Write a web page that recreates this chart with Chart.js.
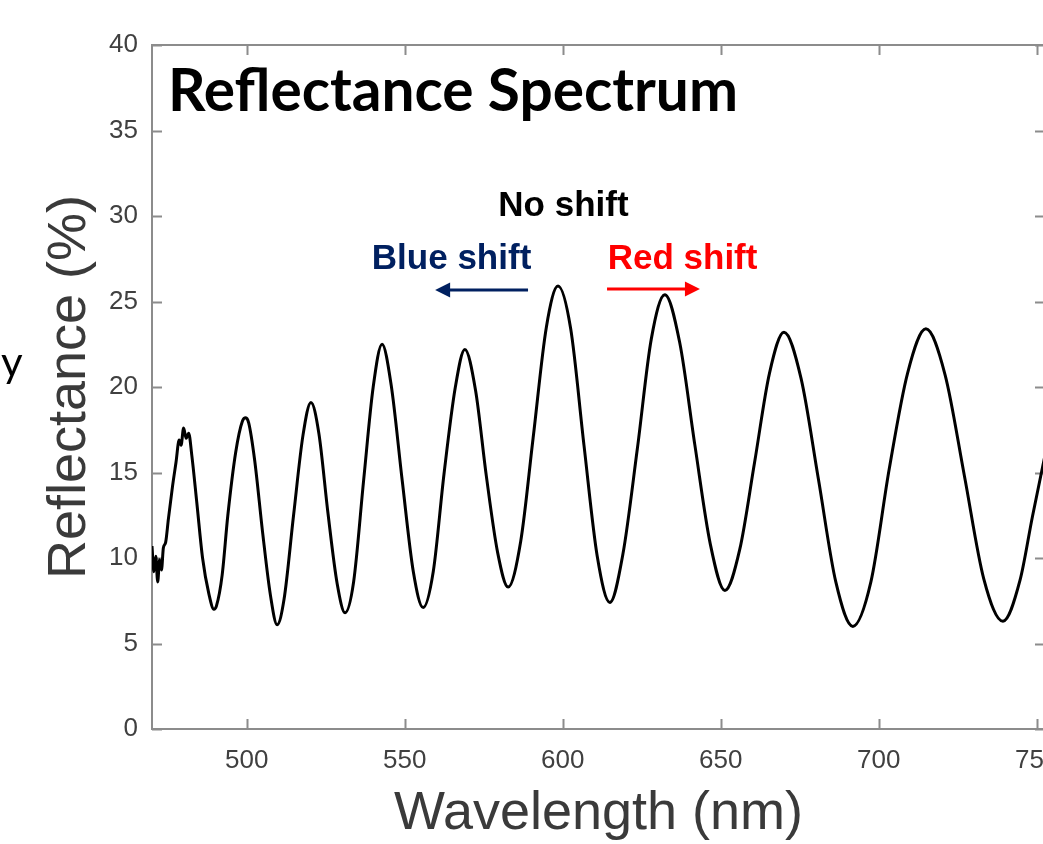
<!DOCTYPE html>
<html>
<head>
<meta charset="utf-8">
<script src="https://cdn.jsdelivr.net/npm/chart.js@4.4.0/dist/chart.umd.min.js"></script>
<style>
  html, body { margin: 0; padding: 0; overflow: hidden; background: #fff; }
  #wrap { position: absolute; left: 0; top: 0; width: 1100px; height: 844px; }
</style>
</head>
<body>
<div id="wrap"><canvas id="myChart" width="1100" height="844"></canvas></div>
<script>
// Wavelength (nm) and reflectance (%)
const wavelengths = [
  470.0, 470.6, 471.2, 471.8, 472.4, 473.0, 473.6, 474.3, 475.2, 476.5,
  477.6, 478.6, 479.2, 480.0, 480.8, 481.6, 482.6, 484.2, 486.0, 488.0,
  489.6, 490.4, 492.2, 494.0, 496.5, 498.6, 499.7, 500.6, 502.5, 505.0,
  507.5, 509.6, 511.8, 514.8, 517.8, 520.3, 522.8, 525.7, 528.6, 531.1,
  533.8, 537.0, 540.0, 542.8, 545.7, 549.2, 552.7, 555.8, 559.0, 562.4,
  566.0, 569.0, 572.4, 575.8, 579.4, 582.7, 586.7, 590.6, 594.8, 598.5,
  602.5, 606.7, 610.9, 614.9, 619.0, 623.6, 628.0, 632.3, 637.0, 641.8,
  646.7, 651.3, 656.0, 660.7, 665.4, 670.0, 675.4, 680.9, 686.4, 691.8,
  697.5, 703.3, 709.1, 714.9, 721.0, 727.1, 733.2, 739.3, 744.7, 748.6,
  752.6
];
const reflectance = [
  10.7, 9.2, 10.1, 8.6, 9.9, 9.3, 10.6, 10.9, 12.3, 14.2,
  15.6, 16.9, 16.6, 17.6, 17.0, 17.3, 16.0, 13.2, 10.0, 7.9,
  7.0, 7.2, 9.0, 12.5, 16.2, 18.0, 18.2, 17.9, 15.7, 11.5,
  7.8, 6.1, 7.6, 12.5, 17.2, 19.1, 17.3, 12.6, 8.5, 6.8,
  8.6, 14.6, 20.0, 22.5, 20.1, 14.5, 9.2, 7.1, 9.2, 14.9,
  20.0, 22.2, 19.8, 14.8, 10.3, 8.3, 11.0, 17.0, 23.5, 25.9,
  23.4, 16.6, 10.1, 7.4, 10.2, 16.4, 22.8, 25.4, 22.6, 16.6,
  10.8, 8.1, 10.5, 15.6, 20.8, 23.2, 20.5, 14.6, 8.6, 6.0,
  8.6, 15.2, 20.8, 23.4, 20.7, 14.8, 8.8, 6.3, 8.7, 12.4,
  16.0
];

const xTicks = [500, 550, 600, 650, 700, 750];
const yTicks = [0, 5, 10, 15, 20, 25, 30, 35, 40];

const titleText = 'Reflectance Spectrum';
const xTitle = 'Wavelength (nm)';
const yTitle = 'Reflectance (%)';
const shiftLabels = ['No shift', 'Blue shift', 'Red shift'];
const strayText = 'y';

const points = wavelengths.map((w, i) => ({ x: w, y: reflectance[i] }));

// frame round the plot with ticks pointing inwards, like matlab
const framePlugin = {
  id: 'frame',
  beforeDatasetsDraw(chart) {
    const { ctx, chartArea: a, scales: { x, y } } = chart;
    ctx.save();
    ctx.strokeStyle = '#8c8c8c';
    ctx.lineWidth = 2;
    ctx.strokeRect(a.left, a.top, a.right - a.left, a.bottom - a.top);
    ctx.beginPath();
    xTicks.forEach(v => {
      const px = Math.round(x.getPixelForValue(v)) + 0.5;
      ctx.moveTo(px, a.bottom); ctx.lineTo(px, a.bottom - 10);
      ctx.moveTo(px, a.top); ctx.lineTo(px, a.top + 10);
    });
    yTicks.forEach(v => {
      const py = Math.round(y.getPixelForValue(v)) + 0.5;
      ctx.moveTo(a.left, py); ctx.lineTo(a.left + 10, py);
      ctx.moveTo(a.right, py); ctx.lineTo(a.right - 10, py);
    });
    ctx.stroke();
    ctx.restore();
  }
};

function arrow(ctx, x1, x2, yy, color) {
  const dir = Math.sign(x2 - x1);
  ctx.strokeStyle = color;
  ctx.fillStyle = color;
  ctx.lineWidth = 3;
  ctx.beginPath();
  ctx.moveTo(x1, yy);
  ctx.lineTo(x2 - dir * 12, yy);
  ctx.stroke();
  ctx.beginPath();
  ctx.moveTo(x2, yy);
  ctx.lineTo(x2 - dir * 15, yy - 7.5);
  ctx.lineTo(x2 - dir * 15, yy + 7.5);
  ctx.closePath();
  ctx.fill();
}

// title in the plot, shift labels and arrows
const notesPlugin = {
  id: 'notes',
  afterDraw(chart) {
    const { ctx, chartArea: a, scales: { x, y } } = chart;
    ctx.save();

    // title squeezed to the width it has in the figure (calibri is narrow)
    ctx.font = 'bold 60px Lato';
    ctx.fillStyle = '#000';
    ctx.textAlign = 'left';
    ctx.textBaseline = 'alphabetic';
    const w = ctx.measureText(titleText).width;
    ctx.translate(a.left + 16, a.top + 66);
    ctx.scale(570 / w, 1);
    ctx.fillText(titleText, 0, 0);
    ctx.setTransform(1, 0, 0, 1, 0, 0);

    ctx.font = 'bold 35px "Liberation Sans"';
    ctx.textAlign = 'center';
    ctx.fillStyle = '#000000';
    ctx.fillText(shiftLabels[0], x.getPixelForValue(600.2), y.getPixelForValue(30.0));
    ctx.fillStyle = '#002060';
    ctx.fillText(shiftLabels[1], x.getPixelForValue(564.8), y.getPixelForValue(26.9));
    ctx.fillStyle = '#ff0000';
    ctx.fillText(shiftLabels[2], x.getPixelForValue(637.9), y.getPixelForValue(26.9));

    arrow(ctx, x.getPixelForValue(589.0), x.getPixelForValue(559.6), y.getPixelForValue(25.67), '#002060');
    arrow(ctx, x.getPixelForValue(614.0), x.getPixelForValue(643.4), y.getPixelForValue(25.73), '#ff0000');

    // leftover letter from the slide at the left edge
    ctx.font = '42px Lato';
    ctx.fillStyle = '#000';
    ctx.textAlign = 'left';
    ctx.fillText(strayText, 1, 377);
    ctx.restore();
  }
};

const ctx = document.getElementById('myChart').getContext('2d');
const myChart = new Chart(ctx, {
  type: 'line',
  data: {
    datasets: [{
      data: points,
      borderColor: '#000000',
      borderWidth: 3,
      pointRadius: 0,
      cubicInterpolationMode: 'monotone',
      fill: false
    }]
  },
  options: {
    responsive: false,
    animation: false,
    devicePixelRatio: 1,
    layout: { padding: { top: 45, right: 55, bottom: 0, left: 0 } },
    plugins: { legend: { display: false }, tooltip: { enabled: false } },
    scales: {
      x: {
        type: 'linear',
        min: 470,
        max: 752.6,
        afterBuildTicks: s => { s.ticks = xTicks.map(v => ({ value: v })); },
        afterFit: s => { s.height = 115; },
        grid: { display: false, drawTicks: false },
        border: { display: false },
        ticks: {
          padding: 16,
          color: '#404040',
          font: { family: 'Liberation Sans', size: 26 },
          maxRotation: 0,
          autoSkip: false
        },
        title: {
          display: true,
          text: xTitle,
          color: '#3a3a3a',
          font: { family: 'Liberation Sans', size: 54, lineHeight: 1 },
          padding: { top: 0, bottom: 3 }
        }
      },
      y: {
        min: 0,
        max: 40,
        afterBuildTicks: s => { s.ticks = yTicks.map(v => ({ value: v })); },
        afterFit: s => { s.width = 152; },
        grid: { display: false, drawTicks: false },
        border: { display: false },
        ticks: {
          padding: 14,
          color: '#404040',
          font: { family: 'Liberation Sans', size: 26 },
          autoSkip: false
        },
        title: {
          display: true,
          text: yTitle,
          color: '#3a3a3a',
          font: { family: 'Liberation Sans', size: 54, lineHeight: 1.2 },
          padding: { top: 38, bottom: 0 }
        }
      }
    }
  },
  plugins: [framePlugin, notesPlugin]
});
</script>
</body>
</html>
